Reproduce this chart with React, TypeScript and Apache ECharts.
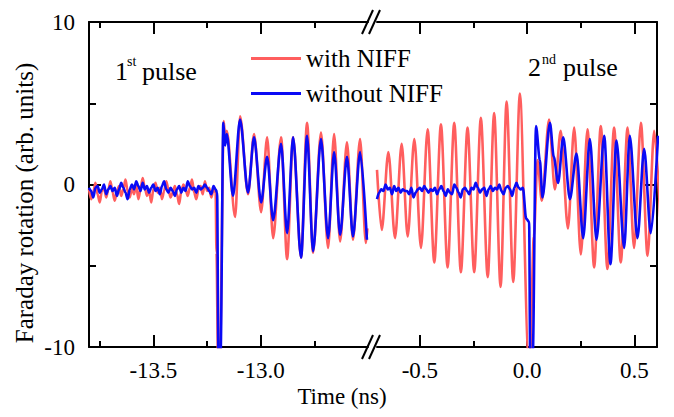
import React, { useEffect, useRef } from "react";
import * as echarts from "echarts";

const FONT = "Liberation Serif";
const RED = "#FF5E5E";
const BLUE = "#0A0AF5";

// Left panel (1st pulse): background noise sampled every 0.01 ns from -13.80 ns
const LEFT_NOISE_T0 = -13.8;
const NOISE_DT = 0.01;
const redLeftNoise = [
  -0.3, -0.9, -0.5, 0.1, -0.6, -1.1, -0.4, -0.2, -0.8, -0.3,
  0.2, -0.5, -1.0, -0.4, -0.1, -0.7, -0.3, 0.3, -0.4, -0.8,
  -0.2, -0.6, 0.0, -0.9, -0.3, 0.4, -0.2, -0.7, -0.4, -1.1,
  -0.3, 0.1, -0.5, -0.2, -0.9, -0.4, 0.2, -0.3, -0.8, -0.5,
  -0.1, -0.6, -1.2, -0.4, 0.0, -0.3, -0.7, -0.2, 0.3, -0.5,
  -0.9, -0.3, -0.1, -0.6, 0.2, -0.4, -0.2, -0.8, -0.3, -0.5,
];
const blueLeftNoise = [
  -0.2, -0.4, -0.8, -0.2, -0.1, -0.5, -0.3, 0.0, -0.6, -0.3,
  -0.1, -0.4, -0.2, -0.7, -0.3, 0.1, -0.2, -0.5, -0.9, -0.3,
  0.0, -0.3, 0.2, -0.1, -0.4, 0.1, -0.3, -0.1, -0.5, -0.2,
  0.0, -0.4, -0.2, -0.6, -0.1, 0.2, -0.3, -0.5, -0.2, -0.4,
  -0.7, -0.3, -0.1, -0.5, -0.2, -0.4, 0.2, -0.1, -0.3, -0.2,
  -0.5, -0.1, -0.3, -0.2, 0.0, -0.2, -0.4, -0.6, -0.1, -0.3,
];

// Left panel oscillation (peaks / troughs)
const redLeftOscT = [
  -13.206, -13.199, -13.19, -13.172, -13.165, -13.158, -13.119, -13.096, -13.059, -13.031,
  -12.998, -12.97, -12.942, -12.905, -12.877, -12.849, -12.812, -12.784, -12.756, -12.719,
  -12.686, -12.658, -12.63, -12.598, -12.57, -12.537, -12.51, -12.503,
];
const redLeftOscV = [
  -4.2, -10.5, -10.5, 3.9, 2.6, 3.3, -2.0, 4.2, -0.6, 3.1,
  -1.7, 2.9, -3.3, 2.9, -4.6, 2.9, -4.5, 3.8, -4.2, 3.2,
  -3.9, 3.1, -3.5, 2.6, -3.4, 2.8, -3.6, -2.7,
];
const blueLeftOscT = [
  -13.203, -13.197, -13.187, -13.174, -13.166, -13.158, -13.129, -13.096, -13.059, -13.031,
  -12.998, -12.97, -12.942, -12.905, -12.877, -12.849, -12.812, -12.784, -12.756, -12.719,
  -12.686, -12.658, -12.63, -12.598, -12.57, -12.537, -12.505,
];
const blueLeftOscV = [
  -0.5, -10.5, -10.5, 3.8, 2.4, 3.1, -0.7, 4.0, -0.5, 2.9,
  -1.1, 1.7, -2.2, 2.5, -3.0, 2.9, -4.5, 3.0, -4.1, 2.8,
  -3.3, 2.0, -3.1, 1.7, -3.2, 2.0, -3.4,
];

// Right panel (2nd pulse)
const redRightT = [
  -0.7, -0.678, -0.647, -0.616, -0.585, -0.557, -0.526, -0.495, -0.464, -0.433,
  -0.402, -0.371, -0.34, -0.309, -0.278, -0.247, -0.216, -0.184, -0.154, -0.124,
  -0.096, -0.065, -0.034, 0.006, 0.013, 0.031, 0.048, 0.068, 0.102, 0.129,
  0.156, 0.19, 0.219, 0.25, 0.281, 0.312, 0.343, 0.374, 0.405, 0.436,
  0.468, 0.498, 0.53, 0.561, 0.592, 0.62,
];
const redRightV = [
  0.9, -2.8, 2.0, -3.3, 2.5, -3.2, 2.8, -3.9, 3.4, -4.8,
  3.7, -5.1, 3.8, -5.4, 3.5, -5.4, 4.1, -5.7, 4.4, -6.3,
  5.1, -6.0, 5.6, -10.5, -10.5, -3.2, 1.5, -1.0, 4.0, -0.3,
  3.3, -2.7, 3.5, -4.3, 3.4, -5.1, 3.6, -5.2, 3.5, -4.8,
  3.5, -3.9, 3.8, -4.4, 3.3, -2.0,
];
const RIGHT_NOISE_T0 = -0.7;
const blueRightNoise = [
  -0.9, -0.5, -0.3, -0.4, 0.0, -0.3, -0.2, -0.6, -0.1, -0.4,
  -0.2, -0.5, -0.3, -0.4, -0.4, -0.6, -0.2, -0.8, -0.5, -0.3,
  -0.2, -0.4, -0.1, -0.3, -0.5, -0.3, -0.4, -0.2, -0.6, -0.3,
  -0.1, -0.4, -0.7, -0.3, -0.5, -0.6, 0.0, -0.2, -0.5, -0.8,
  -0.3, -0.2, -0.4, -0.6, -0.2, -0.3, 0.1, -0.2, -0.5, -0.3,
  -0.2, -0.7, -0.3, -0.1, -0.4, -0.2, -0.3, 0.0, -0.4, -0.6,
  -0.2, -0.1, -0.3, -0.7, -0.2, 0.1, -0.2, -0.3, -0.2,
];
const blueRightOscT = [
  -0.005, 0.009, 0.014, 0.026, 0.041, 0.059, 0.071, 0.106, 0.124, 0.144,
  0.168, 0.199, 0.23, 0.261, 0.292, 0.323, 0.359, 0.388, 0.416, 0.452,
  0.478, 0.514, 0.545, 0.576, 0.61,
];
const blueRightOscV = [
  -2.1, -2.3, -10.5, -10.5, 3.6, 1.5, -0.8, 3.8, 1.7, 0.1,
  2.9, -0.9, 1.9, -3.3, 2.8, -3.4, 3.0, -4.9, 2.7, -3.9,
  3.0, -3.3, 2.2, -3.0, 3.0,
];

const leftMajor = [-13.5, -13.0];
const leftMinor = [-13.75, -13.25, -12.75];
const rightMajor = [-0.5, 0.0, 0.5];
const rightMinor = [-0.25, 0.25];
const yLabels = [-10, 0, 10];

const SERIES_NAMES = ["with NIFF", "without NIFF"];

function noisePairs(t0: number, vals: number[]) {
  return vals.map((v, i) => [+(t0 + i * NOISE_DT).toFixed(3), v]);
}
function pairs(ts: number[], vs: number[]) {
  return ts.map((t, i) => [t, vs[i]]);
}

export default function App() {
  const ref = useRef<HTMLDivElement>(null);
  useEffect(() => {
    if (!ref.current) return;
    const chart = echarts.init(ref.current, undefined, { renderer: "svg" });

    const axisColor = "#000";
    const mkX = (gridIndex: number, min: number, max: number, pos: string, ticks: number[], len: number, showLine: boolean, labels: boolean) => ({
      type: "value",
      gridIndex,
      position: pos,
      min,
      max,
      axisLine: { show: showLine, onZero: false, lineStyle: { color: axisColor, width: 2 } },
      axisTick: { show: true, inside: true, length: len, customValues: ticks, lineStyle: { color: axisColor, width: 2 } },
      axisLabel: labels
        ? {
            show: true,
            customValues: ticks,
            formatter: (v: number) => v.toFixed(1),
            fontSize: 23,
            fontFamily: FONT,
            color: "#000",
            margin: 12,
          }
        : { show: false },
      splitLine: { show: false },
    });

    const mkY = (gridIndex: number, pos: string, labels: boolean) => ({
      type: "value",
      gridIndex,
      position: pos,
      min: -10,
      max: 10,
      interval: 10,
      axisLine: { show: true, onZero: false, lineStyle: { color: axisColor, width: 2 } },
      axisTick: { show: true, inside: true, length: 12, lineStyle: { color: axisColor, width: 2 } },
      minorTick: { show: true, splitNumber: 2, length: 7, lineStyle: { color: axisColor, width: 2 } },
      axisLabel: labels
        ? { show: true, customValues: yLabels, fontSize: 23, fontFamily: FONT, color: "#000", margin: 14 }
        : { show: false },
      splitLine: { show: false },
      minorSplitLine: { show: false },
    });

    const lineBase = {
      type: "line",
      showSymbol: false,
      symbol: "none",
      smooth: 0.3,
      smoothMonotone: "x",
      clip: true,
    };

    const redLeft = [...noisePairs(LEFT_NOISE_T0, redLeftNoise), ...pairs(redLeftOscT, redLeftOscV)];
    const blueLeft = [...noisePairs(LEFT_NOISE_T0, blueLeftNoise), ...pairs(blueLeftOscT, blueLeftOscV)];
    const redRight = pairs(redRightT, redRightV);
    const blueRight = [...noisePairs(RIGHT_NOISE_T0, blueRightNoise), ...pairs(blueRightOscT, blueRightOscV)];

    const slash = (x0: number, yc: number) => ({
      type: "line",
      shape: { x1: x0, y1: yc + 12, x2: x0 + 11, y2: yc - 12 },
      style: { stroke: "#000", lineWidth: 2 },
      z: 100,
    });

    const txt = (text: string, x: number, y: number, size: number, align = "left", extra: any = {}) => ({
      type: "text",
      x,
      y,
      z: 100,
      ...extra,
      style: {
        text,
        font: `${size}px ${FONT}`,
        fontSize: size,
        fontFamily: FONT,
        fill: "#000",
        align,
        textAlign: align,
        verticalAlign: "middle",
        textVerticalAlign: "middle",
      },
    });

    chart.setOption({
      animation: false,
      backgroundColor: "#fff",
      textStyle: { fontFamily: FONT },
      grid: [
        { left: 89, top: 22, width: 279, height: 325, containLabel: false },
        { left: 377, top: 22, width: 280, height: 325, containLabel: false },
      ],
      xAxis: [
        mkX(0, -13.8, -12.5, "bottom", leftMajor, 12, true, true),
        mkX(0, -13.8, -12.5, "bottom", leftMinor, 6, false, false),
        mkX(0, -13.8, -12.5, "top", leftMajor, 12, true, false),
        mkX(0, -13.8, -12.5, "top", leftMinor, 6, false, false),
        mkX(1, -0.7, 0.605, "bottom", rightMajor, 12, true, true),
        mkX(1, -0.7, 0.605, "bottom", rightMinor, 6, false, false),
        mkX(1, -0.7, 0.605, "top", rightMajor, 12, true, false),
        mkX(1, -0.7, 0.605, "top", rightMinor, 6, false, false),
      ],
      yAxis: [mkY(0, "left", true), mkY(1, "right", false)],
      legend: {
        data: SERIES_NAMES,
        orient: "vertical",
        left: 251,
        top: 46,
        padding: 0,
        icon: "rect",
        itemWidth: 50,
        itemHeight: 3,
        itemGap: 10,
        textStyle: { fontSize: 25, fontFamily: FONT, color: "#000", lineHeight: 25 },
      },
      series: [
        { ...lineBase, name: SERIES_NAMES[0], xAxisIndex: 0, yAxisIndex: 0, data: redLeft, color: RED, lineStyle: { color: RED, width: 2.6 }, z: 2 },
        { ...lineBase, name: SERIES_NAMES[1], xAxisIndex: 0, yAxisIndex: 0, data: blueLeft, color: BLUE, lineStyle: { color: BLUE, width: 2.6 }, z: 3 },
        { ...lineBase, name: SERIES_NAMES[0], xAxisIndex: 4, yAxisIndex: 1, data: redRight, color: RED, lineStyle: { color: RED, width: 2.6 }, z: 2 },
        { ...lineBase, name: SERIES_NAMES[1], xAxisIndex: 4, yAxisIndex: 1, data: blueRight, color: BLUE, lineStyle: { color: BLUE, width: 2.6 }, z: 3 },
      ],
      graphic: [
        slash(362, 22),
        slash(369, 22),
        slash(362, 347),
        slash(369, 347),
        txt("Faraday rotation (arb. units)", 24, 203, 25, "center", { rotation: Math.PI / 2 }),
        txt("Time (ns)", 342, 396, 23, "center"),
        txt("1", 115, 71, 26),
        txt("st", 127, 61, 14),
        txt("pulse", 142, 71, 26),
        txt("2", 528, 67, 26),
        txt("nd", 542, 59, 14),
        txt("pulse", 563, 67, 26),
      ],
    });
    return () => chart.dispose();
  }, []);

  return (
    <div
      ref={ref}
      style={{ position: "fixed", left: 0, top: 0, width: 674, height: 417, background: "#fff" }}
    />
  );
}
